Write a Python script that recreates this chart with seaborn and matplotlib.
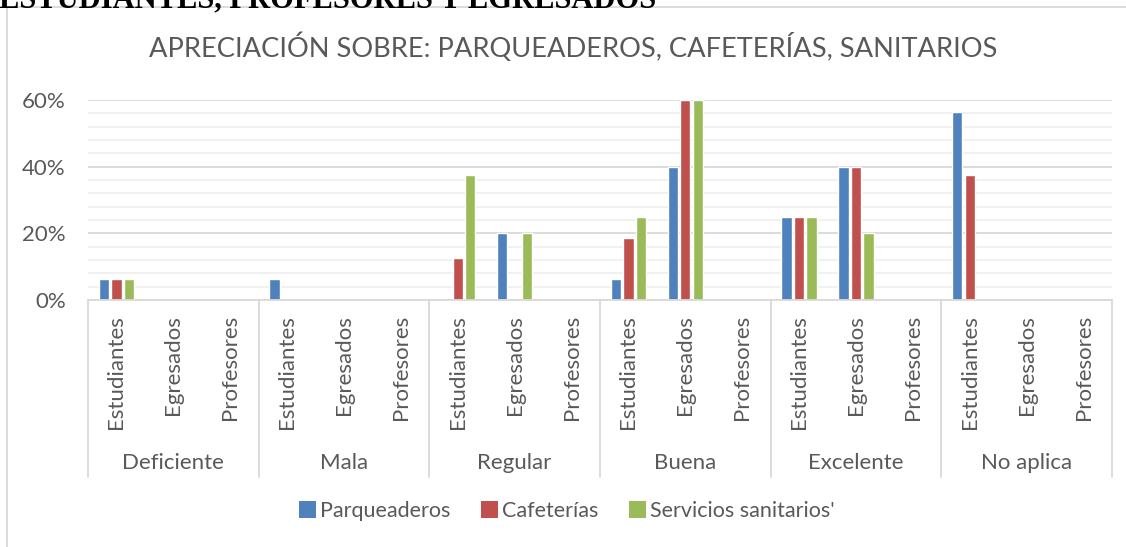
from __future__ import annotations

import matplotlib

matplotlib.use("Agg")

import matplotlib.pyplot as plt
import pandas as pd
import seaborn as sns
from matplotlib.patches import Patch, Rectangle
from matplotlib.ticker import MultipleLocator, PercentFormatter

RATINGS = ["Deficiente", "Mala", "Regular", "Buena", "Excelente", "No aplica"]
RESPONDENTS = ["Estudiantes", "Egresados", "Profesores"]
SERVICES = ["Parqueaderos", "Cafeterías", "Servicios sanitarios'"]

# percent per rating, in respondent order (Estudiantes, Egresados, Profesores)
PARQUEADEROS = [6.25, 0, 0, 6.25, 0, 0, 0, 20, 0, 6.25, 40, 0, 25, 40, 0, 56.25, 0, 0]
CAFETERIAS = [6.25, 0, 0, 0, 0, 0, 12.5, 0, 0, 18.75, 60, 0, 25, 40, 0, 37.5, 0, 0]
SANITARIOS = [6.25, 0, 0, 0, 0, 0, 37.5, 20, 0, 25, 60, 0, 25, 20, 0, 0, 0, 0]

TITLE = "APRECIACIÓN SOBRE: PARQUEADEROS, CAFETERÍAS, SANITARIOS"
HEADER = "ESTUDIANTES, PROFESORES Y EGRESADOS"

COLORS = ["#4F81BD", "#C0504D", "#9BBB59"]
TEXT = "#595959"
GRID = "#D9D9D9"
MINOR = "#F0F0F0"
W, H = 1126, 547


def build_frame() -> tuple[pd.DataFrame, list[str]]:
    slots = [f"{r}|{g}" for r in RATINGS for g in RESPONDENTS]
    rows = []
    for service, values in zip(SERVICES, [PARQUEADEROS, CAFETERIAS, SANITARIOS]):
        for slot, value in zip(slots, values):
            rows.append({"slot": slot, "service": service, "share": value / 100})
    return pd.DataFrame(rows), slots


def main() -> None:
    sns.set_style("white")
    plt.rcParams["font.family"] = ["Lato", "DejaVu Sans"]

    frame, slots = build_frame()

    fig = plt.figure(figsize=(W / 100, H / 100), dpi=100)
    ax = fig.add_axes([88 / W, 1 - 300 / H, 1024 / W, 200 / H])

    sns.barplot(
        data=frame, x="slot", y="share", hue="service",
        order=slots, hue_order=SERVICES, palette=COLORS,
        width=0.66, gap=0.18, saturation=1, errorbar=None, ax=ax, zorder=3,
        legend=False,
    )
    for patch in ax.patches:
        if patch.get_height() == 0:
            patch.set_visible(False)

    ax.set_xlim(-0.5, len(slots) - 0.5)
    ax.set_ylim(0, 0.6)
    ax.yaxis.set_major_locator(MultipleLocator(0.2))
    ax.yaxis.set_minor_locator(MultipleLocator(0.04))
    ax.yaxis.set_major_formatter(PercentFormatter(1, decimals=0))
    ax.tick_params(axis="y", which="both", length=0, pad=16, labelsize=16, labelcolor=TEXT)
    ax.tick_params(axis="x", bottom=False, labelbottom=False)
    ax.set_xlabel("")
    ax.set_ylabel("")
    ax.grid(axis="y", which="minor", color=MINOR, lw=1.3)
    ax.grid(axis="y", which="major", color=GRID, lw=1.3)
    ax.set_axisbelow(True)
    for spine in ax.spines.values():
        spine.set_visible(False)
    ax.axhline(0, color=GRID, lw=1.3, zorder=4, clip_on=False)

    trans = ax.get_xaxis_transform()
    for k in range(len(RATINGS) + 1):
        b = -0.5 + 3 * k
        ax.plot([b, b], [0, -0.885], transform=trans, color=GRID, lw=1.3, clip_on=False)
    for i, slot in enumerate(slots):
        ax.text(i, -0.075, slot.split("|")[1], rotation=90, ha="center", va="top",
                transform=trans, fontsize=16, color=TEXT)
    for k, rating in enumerate(RATINGS):
        ax.text(3 * k + 1, -0.815, rating, ha="center", va="center",
                transform=trans, fontsize=16, color=TEXT)

    handles = [Patch(facecolor=c, edgecolor="none") for c in COLORS]
    fig.legend(
        handles, SERVICES, loc="center", bbox_to_anchor=(567 / W, 1 - 511 / H),
        ncol=3, frameon=False, fontsize=15.5, labelcolor=TEXT,
        handlelength=0.8, handleheight=0.8, handletextpad=0.2, columnspacing=1.4,
    )

    fig.text(573.5 / W, 1 - 47 / H, TITLE, ha="center", va="center", fontsize=19.6, color=TEXT)
    fig.text(-1 / W, 1 - 7 / H, HEADER, ha="left", va="baseline", fontsize=22,
             fontweight="bold", family=["Liberation Serif", "DejaVu Serif"], color="black")
    fig.add_artist(Rectangle((7 / W, -0.1), 2, 1.1 - 7 / H, transform=fig.transFigure,
                             fill=False, ec=GRID, lw=1.3))

    fig.savefig("out.png", dpi=100)
    plt.close(fig)


if __name__ == "__main__":
    main()
